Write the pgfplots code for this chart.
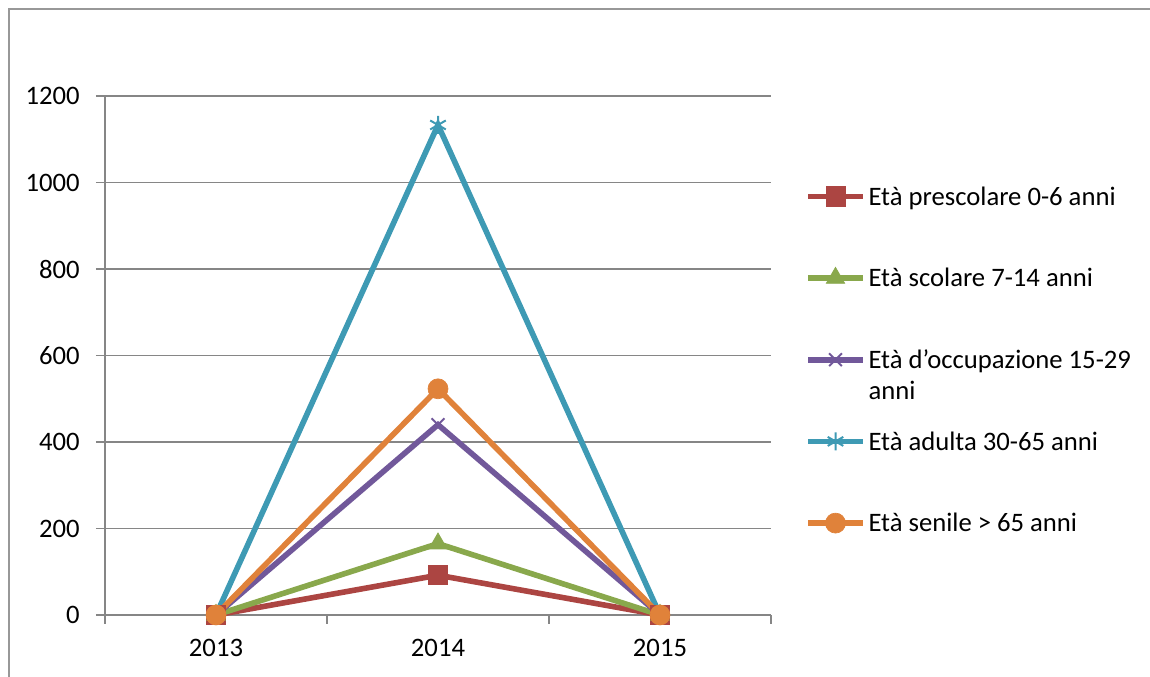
\documentclass[border=0pt]{standalone}
\usepackage{pgfplots}
\pgfplotsset{compat=1.18}
\usepackage{fontspec}
\setmainfont{Carlito}
\definecolor{cred}{RGB}{172,69,66}
\definecolor{cgreen}{RGB}{137,168,76}
\definecolor{cpurple}{RGB}{113,88,154}
\definecolor{cblue}{RGB}{62,154,180}
\definecolor{corange}{RGB}{224,130,58}
\definecolor{cgrid}{RGB}{134,134,134}
\begin{document}
\fontsize{20}{23.25}\selectfont
\begin{tikzpicture}
\useasboundingbox (0,0) rectangle (862.5pt,507.75pt);
\draw[cgrid!85, line width=1.1pt] (6.75pt,-5pt) -- (6.75pt,501pt) -- (870pt,501pt);
\begin{axis}[
  at={(78.75pt,46.5pt)}, anchor=south west,
  scale only axis, width=499.5pt, height=389.25pt,
  xmin=-0.5, xmax=2.5, ymin=0, ymax=1200,
  ytick={0,200,...,1200},
  xtick={-0.5,0.5,1.5,2.5}, xticklabels={,,,},
  extra x ticks={0,1,2}, extra x tick labels={2013,2014,2015},
  extra x tick style={major tick length=0pt, grid=none, tick label style={yshift=-11pt}},
  axis x line*=bottom, axis y line*=left,
  axis line style={draw=cgrid, line width=1pt},
  ymajorgrids, grid style={cgrid, line width=1pt},
  tick align=outside, major tick length=6.75pt,
  tick style={cgrid, line width=1pt},
  yticklabel style={inner xsep=12pt},
  /pgf/number format/assume math mode=true,
  /pgf/number format/1000 sep={},
  clip=false,
  legend style={at={(1.051,0.832)}, anchor=north west, draw=none, fill=none,
    inner sep=0pt, row sep=42pt, column sep=2pt, nodes={inner sep=0pt}},
  legend cell align=left,
  legend image code/.code={\draw[mark repeat=2, mark phase=2, #1] plot coordinates {(0pt,0pt) (20.6pt,0pt) (41.25pt,0pt)};},
  every axis plot/.append style={line width=4.2pt},
]
\addplot[cred, mark=square*, mark size=7.2pt, mark options={line width=0.5pt}] coordinates {(0,0) (1,92) (2,0)};
\addlegendentry{\strut Età prescolare 0-6 anni}
\addplot[cgreen, mark=triangle*, mark size=8pt, mark options={line width=0.5pt}] coordinates {(0,0) (1,165) (2,0)};
\addlegendentry{\strut Età scolare 7-14 anni}
\addplot[cpurple, mark=x, mark size=6.75pt, mark options={line width=1.5pt}] coordinates {(0,0) (1,440) (2,0)};
\addlegendentry{\raisebox{0pt}[\height][\dp\strutbox]{\parbox[t]{240pt}{\strut Età d’occupazione 15-29\\anni\strut}}}
\addplot[cblue, mark=asterisk, mark size=6.75pt, mark options={line width=1.5pt}] coordinates {(0,0) (1,1133) (2,0)};
\addlegendentry{\strut Età adulta 30-65 anni}
\addplot[corange, mark=*, mark size=7.5pt, mark options={line width=0.5pt}] coordinates {(0,0) (1,523) (2,0)};
\addlegendentry{\strut Età senile > 65 anni}
\end{axis}
\end{tikzpicture}
\end{document}
